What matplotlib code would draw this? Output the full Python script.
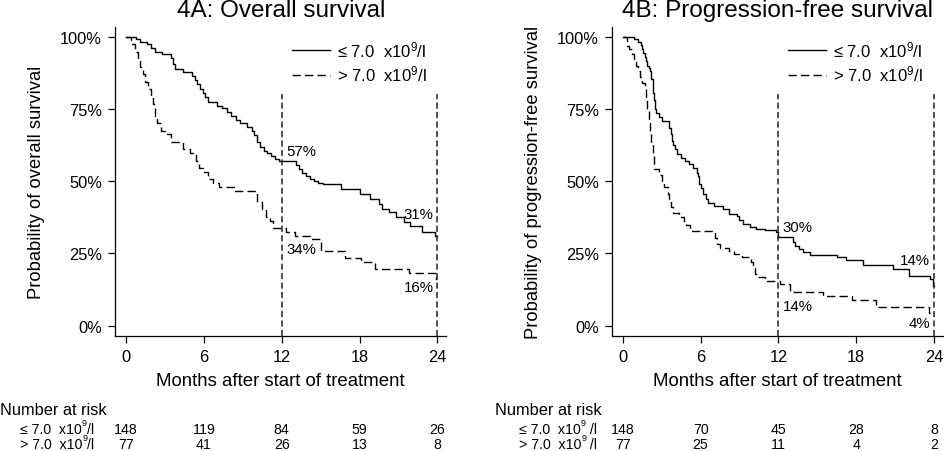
"""Figure 4: Kaplan-Meier curves (OS / PFS) by leukocyte count, with numbers at risk"""
import matplotlib
matplotlib.use('Agg')
import matplotlib.pyplot as plt
from matplotlib.transforms import blended_transform_factory

plt.rcParams['font.family'] = ['Liberation Sans', 'DejaVu Sans']
plt.rcParams['mathtext.fontset'] = 'custom'
plt.rcParams['mathtext.rm'] = 'Liberation Sans'
plt.rcParams['mathtext.it'] = 'Liberation Sans'

# ---- data ----
months_ticks = [0, 6, 12, 18, 24]

# 4A overall survival, <= 7.0 x10^9/l
os_low_t = [0, 0.8, 1.1, 1.6, 1.9, 2.2, 2.8, 3.5, 3.6, 3.8, 4.4, 5.1, 5.3, 5.5, 5.7,
            5.9, 6.1, 6.3, 7.0, 7.4, 7.8, 8.1, 8.5, 8.8, 9.3, 9.7, 9.9, 10.1, 10.3,
            10.6, 10.9, 11.2, 11.5, 11.8, 13.1, 13.3, 13.6, 13.9, 14.2, 14.5, 14.8,
            15.2, 16.6, 18.0, 18.8, 19.5, 19.7, 20.3, 20.8, 21.4, 21.9, 22.8, 23.8, 24.0]
os_low_s = [100, 99.3, 98.0, 97.3, 96.0, 94.8, 94.1, 92.5, 90.5, 88.8, 87.9, 86.5, 85.0,
            83.5, 82.0, 80.5, 79.0, 77.4, 76.1, 75.4, 74.0, 72.7, 71.3, 70.0, 68.7, 67.3,
            66.0, 63.5, 61.9, 60.6, 59.9, 58.6, 57.6, 56.9, 55.5, 54.2, 52.9, 51.9, 50.9,
            50.2, 49.5, 49.0, 47.3, 45.6, 43.8, 42.0, 40.4, 39.2, 37.5, 35.8, 34.6, 32.3,
            30.9, 30.9]
# 4A overall survival, > 7.0 x10^9/l
os_high_t = [0, 0.4, 0.7, 0.9, 1.1, 1.3, 1.5, 1.7, 1.9, 2.1, 2.2, 2.4, 2.7, 3.0, 3.5,
             4.4, 4.9, 5.4, 5.6, 5.9, 6.3, 6.7, 7.2, 8.3, 10.1, 10.5, 10.8, 11.1, 11.3,
             12.3, 13.0, 14.2, 15.0, 16.9, 18.1, 19.2, 21.8, 23.9, 24.0]
os_high_s = [100, 97.4, 94.8, 92.2, 89.6, 87.0, 84.4, 81.8, 79.2, 76.6, 72.7, 70.1, 67.5,
             66.2, 63.6, 61.0, 59.7, 57.1, 54.5, 53.2, 50.6, 49.3, 48.0, 46.7, 42.9, 40.3,
             37.7, 36.4, 33.8, 32.5, 31.2, 29.9, 26.0, 23.4, 22.1, 19.5, 18.2, 16.2, 16.2]

# 4B progression-free survival, <= 7.0 x10^9/l
pfs_low_t = [0, 0.9, 1.2, 1.4, 1.5, 1.6, 1.7, 1.8, 1.9, 2.0, 2.1, 2.2, 2.3, 2.35, 2.4,
             2.45, 2.5, 2.6, 2.8, 3.0, 3.6, 3.7, 3.8, 3.9, 4.0, 4.2, 4.5, 4.8, 5.1, 5.4,
             5.7, 5.8, 5.9, 6.0, 6.2, 6.4, 6.6, 7.0, 7.7, 8.2, 8.8, 9.0, 9.3, 9.8, 10.3,
             11.0, 11.8, 12.0, 13.1, 13.3, 13.6, 13.9, 14.4, 16.5, 17.2, 18.5, 20.8, 22.1,
             23.7, 23.95, 24.0]
pfs_low_s = [100, 99.2, 98.1, 97.0, 95.9, 94.5, 93.0, 91.5, 90.0, 89.0, 88.0, 85.5, 83.0,
             80.5, 78.0, 76.0, 75.0, 73.5, 72.2, 71.0, 68.5, 66.5, 64.0, 62.5, 61.0, 59.5,
             58.0, 57.0, 55.8, 54.5, 53.0, 51.8, 49.0, 47.5, 45.5, 44.0, 42.6, 41.5, 40.4,
             38.5, 37.8, 36.5, 35.2, 34.3, 33.5, 33.0, 32.4, 30.6, 28.9, 27.5, 26.5, 25.6,
             24.5, 23.7, 22.7, 21.0, 19.6, 17.3, 16.2, 13.8, 13.8]
# 4B progression-free survival, > 7.0 x10^9/l
pfs_high_t = [0, 0.35, 0.5, 0.7, 0.9, 1.0, 1.15, 1.3, 1.5, 1.7, 1.8, 1.9, 2.0, 2.1, 2.2,
              2.3, 2.4, 2.8, 3.0, 3.2, 3.5, 3.6, 3.7, 3.85, 4.3, 4.7, 4.9, 5.15, 7.15, 7.3,
              7.5, 8.2, 8.6, 9.2, 9.9, 10.05, 10.2, 10.4, 11.0, 12.1, 12.9, 15.4, 17.7,
              19.5, 23.6, 24.0]
pfs_high_s = [100, 96.9, 95.7, 94.0, 92.3, 90.0, 88.0, 86.0, 84.0, 82.5, 78.0, 75.0, 71.0,
              67.0, 63.0, 59.0, 54.2, 52.0, 50.0, 48.0, 45.5, 43.0, 41.0, 39.0, 37.5, 36.0,
              35.0, 32.7, 30.5, 28.3, 27.0, 26.0, 24.8, 23.6, 22.2, 20.0, 18.0, 16.8, 15.6,
              14.4, 11.8, 10.4, 8.9, 6.6, 4.4, 4.4]

# numbers at risk at 0, 6, 12, 18, 24 months
os_risk_low = [148, 119, 84, 59, 26]
os_risk_high = [77, 41, 26, 13, 8]
pfs_risk_low = [148, 70, 45, 28, 8]
pfs_risk_high = [77, 25, 11, 4, 2]

# survival estimates printed at 12 and 24 months
os_pct_low = [57, 31]
os_pct_high = [34, 16]
pfs_pct_low = [30, 14]
pfs_pct_high = [14, 4]

W, H = 945, 452
fig = plt.figure(figsize=(W / 100, H / 100), dpi=100)

panels = [
    dict(left=115, legx=292, ylabx=37, title='4A: Overall survival',
         ylabel='Probability of overall survival',
         low=(os_low_t, os_low_s), high=(os_high_t, os_high_s),
         risk=(os_risk_low, os_risk_high), pct=(os_pct_low, os_pct_high),
         pct_off=[(3.5, 7.6), (-7.6, -2.6)], nar_x=0, row_x=20,
         rowlab=('\u2264 7.0  x10', '> 7.0  x10'), unit='/l'),
    dict(left=611.7, legx=788, ylabx=533.3, title='4B: Progression-free survival',
         ylabel='Probability of progression-free survival',
         low=(pfs_low_t, pfs_low_s), high=(pfs_high_t, pfs_high_s),
         risk=(pfs_risk_low, pfs_risk_high), pct=(pfs_pct_low, pfs_pct_high),
         pct_off=[(4.3, 8.9), (-7.2, -2.9)], nar_x=495, row_x=519,
         rowlab=('\u2264 7.0  x10', '> 7.0  x10'), unit=' /l'),
]

ylo, yhi = -3.46, 103.25
for p in panels:
    ax = fig.add_axes([p['left'] / W, (H - 336.7) / H, 331.5 / W, 308.4 / H])
    t, s = p['low']
    ax.plot(t, s, drawstyle='steps-post', color='black', lw=1.0,
            label='\u2264 7.0  x10$^{9}$/l')
    t, s = p['high']
    ax.plot(t, s, drawstyle='steps-post', color='black', lw=1.0, dashes=(6, 3),
            label='> 7.0  x10$^{9}$/l')
    ax.vlines([12, 24], ylo, 80, colors='#222222', lw=1.1, linestyles=(0, (4, 2.2)))

    (pl, ph) = p['pct']
    (off_l, off_h) = p['pct_off']
    ax.text(12.35, pl[0] + off_l[0], f'{pl[0]}%', fontsize=10.8, ha='left', va='center')
    ax.text(23.7, pl[1] + off_l[1], f'{pl[1]}%', fontsize=10.8, ha='right', va='center')
    ax.text(12.35, ph[0] + off_h[0], f'{ph[0]}%', fontsize=10.8, ha='left', va='center')
    ax.text(23.7, ph[1] + off_h[1], f'{ph[1]}%', fontsize=10.8, ha='right', va='center')

    ax.set_xlim(-0.85, 24.7)
    ax.set_ylim(ylo, yhi)
    ax.set_xticks(months_ticks)
    ax.set_yticks([0, 25, 50, 75, 100])
    ax.set_yticklabels(['0%', '25%', '50%', '75%', '100%'])
    ax.tick_params(direction='out', length=4.8, width=0.9, labelsize=11.8, pad=4.5)
    for side in ['top', 'right']:
        ax.spines[side].set_visible(False)
    for side in ['left', 'bottom']:
        ax.spines[side].set_linewidth(0.9)
    ax.set_title(p['title'], fontsize=17.5, pad=8)
    ax.set_ylabel(p['ylabel'], fontsize=13.2, va='center')
    ax.yaxis.set_label_coords((p['ylabx'] - p['left']) / 331.5, 0.5)
    ax.set_xlabel('Months after start of treatment', fontsize=13.4, va='center')
    ax.xaxis.set_label_coords(0.5, (336.7 - 382) / 308.4)

    ax.legend(loc='upper left', frameon=False, fontsize=12, handlelength=2.3,
              handletextpad=0.4, labelspacing=0.3, borderpad=0, borderaxespad=0,
              bbox_to_anchor=(p['legx'] / W, 1 - 40 / H), bbox_transform=fig.transFigure)

    # number at risk table
    tr = blended_transform_factory(ax.transData, fig.transFigure)
    row_y = [1 - 434 / H, 1 - 449 / H]
    fig.text(p['nar_x'] / W, 1 - 411 / H, 'Number at risk', fontsize=11.8, va='center')
    for lab, y in zip(p['rowlab'], row_y):
        t1 = fig.text(p['row_x'] / W, y, lab, fontsize=10.2, va='baseline')
        # small raised exponent, then the unit on the main baseline
        t2 = ax.annotate('9', xy=(1.0, 0.62), xycoords=t1, fontsize=6.5,
                         ha='left', va='bottom', annotation_clip=False)
        ax.annotate(p['unit'], xy=(1.0, 0.0), xycoords=(t2, t1), fontsize=10.2,
                    ha='left', va='bottom', annotation_clip=False)
    for counts, y in zip(p['risk'], row_y):
        for m, n in zip(months_ticks, counts):
            ax.text(m, y, str(n), transform=tr, fontsize=10.2, ha='center', va='baseline')

fig.savefig('out.png', dpi=100)
